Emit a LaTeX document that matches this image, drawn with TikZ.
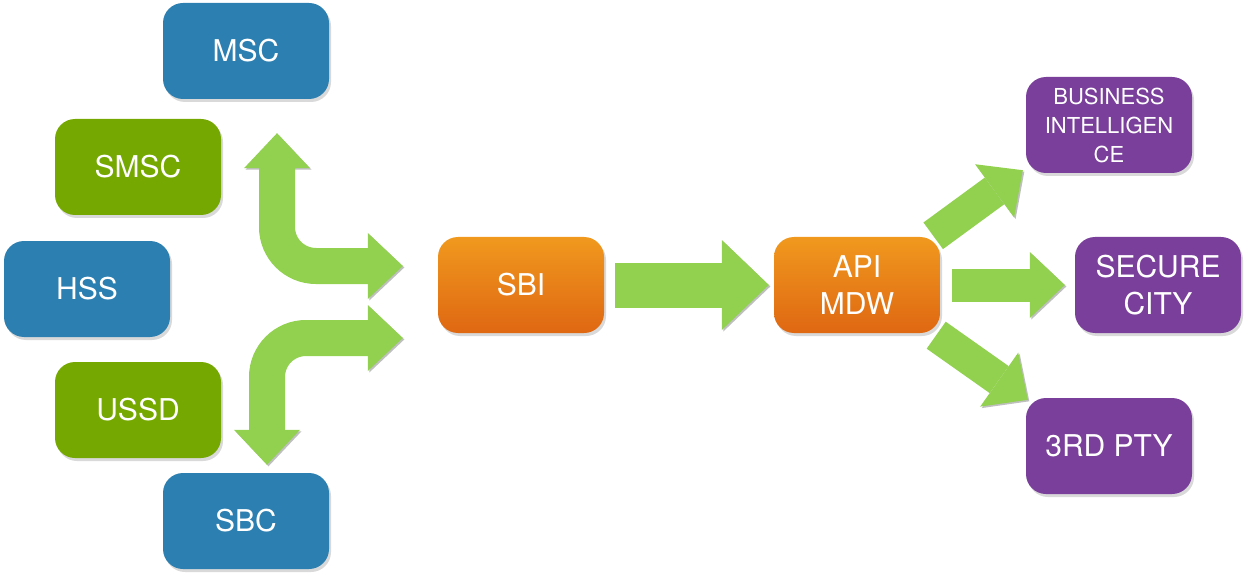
\documentclass[tikz,border=0pt]{standalone}
\usepackage{fontspec}
\setmainfont{TeX Gyre Heros}
\usetikzlibrary{positioning,shadows,arrows.meta}
\definecolor{netblue}{RGB}{44,127,177}
\definecolor{smsgreen}{RGB}{118,168,2}
\definecolor{apppurple}{RGB}{121,63,154}
\definecolor{coretop}{RGB}{240,153,30}
\definecolor{corebottom}{RGB}{223,103,18}
\definecolor{flowgreen}{RGB}{146,208,80}
\tikzset{>={Triangle[length=35pt,width=66pt,line width=0pt]},
  box/.style={rounded corners=20pt,minimum width=166pt,minimum height=96pt,text=white,align=center,
    font=\fontsize{30}{37}\selectfont,drop shadow={shadow xshift=2pt,shadow yshift=-3pt,opacity=.3}},
  netbox/.style={box,fill=netblue},
  smsbox/.style={box,fill=smsgreen},
  corebox/.style={box,top color=coretop,bottom color=corebottom},
  appbox/.style={box,fill=apppurple},
  flow/.style={draw=flowgreen,line width=33pt,preaction={draw=black!25,transform canvas={shift={(1.5pt,-1.5pt)}}}}}

\begin{document}
\begin{tikzpicture}[x=1pt,y=-1pt]
    \useasboundingbox (0,0) rectangle (1246,577);
    % network side
    \node[netbox] (msc) at (246,51) {MSC};
    \node[smsbox] (smsc) at (138,167) {SMSC};
    \node[netbox] (hss) at (87,289) {HSS};
    \node[smsbox] (ussd) at (138,410) {USSD};
    \node[netbox] (sbc) at (246,521) {SBC};
    % middle
    \node[corebox] (sbi) at (521,285) {SBI};
    \node[corebox] (api) at (857,285) {API\\MDW};
    % applications
    \node[appbox,font=\fontsize{22}{29}\selectfont] (bi) at (1109,125) {BUSINESS\\INTELLIGEN\\CE};
    \node[appbox] (city) at (1158,285) {SECURE\\CITY};
    \node[appbox] (pty) at (1109,446) {3RD PTY};
    % flows
    \draw[flow,line width=36pt,<->,rounded corners=39pt] ([xshift=31pt,yshift=-34pt]msc.south) |- ([xshift=-35pt,yshift=19pt]sbi.west);
    \draw[flow,line width=36pt,<->,rounded corners=39pt] ([xshift=-35pt,yshift=-53pt]sbi.west) -| ([xshift=21pt,yshift=8pt]sbc.north);
    \draw[flow,line width=45pt,-{Triangle[length=47pt,width=90pt,line width=0pt]}] ([xshift=11pt]sbi.east) -- ([xshift=-5pt]api.west);
    \draw[flow,->] ([shift={(-7pt,1pt)}]api.north east) -- ([shift={(-3pt,3pt)}]bi.south west);
    \draw[flow,->] ([xshift=12pt]api.east) -- ([xshift=-10pt]city.west);
    \draw[flow,->] ([shift={(-4pt,-2pt)}]api.south east) -- ([shift={(2pt,-2pt)}]pty.north west);
\end{tikzpicture}
\end{document}
